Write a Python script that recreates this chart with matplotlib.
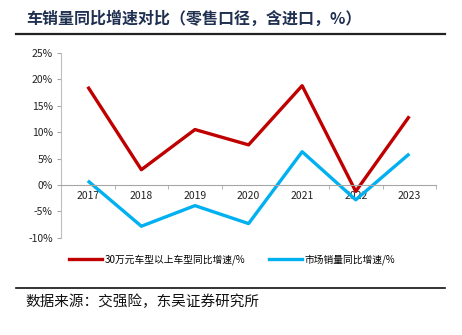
import matplotlib
matplotlib.use("Agg")
import matplotlib.pyplot as plt
from matplotlib.lines import Line2D
from matplotlib.ticker import FuncFormatter, FixedLocator

plt.rcParams['font.family'] = ['Noto Sans CJK SC', 'DejaVu Sans']

years = ["2017", "2018", "2019", "2020", "2021", "2022", "2023"]
premium = [18.6, 2.9, 10.5, 7.6, 18.8, -1.2, 13.0]   # 30万元车型以上
market = [0.8, -7.8, -3.9, -7.3, 6.3, -2.8, 5.9]     # 市场销量
yticks = [-10, -5, 0, 5, 10, 15, 20, 25]

title = "车销量同比增速对比（零售口径，含进口，%）"
source = "数据来源：交强险，东吴证券研究所"
lab_premium = "30万元车型以上车型同比增速/%"
lab_market = "市场销量同比增速/%"

fig = plt.figure(figsize=(4.62, 3.35), dpi=100)
ax = fig.add_axes([0.132, 0.290, 0.812, 0.552])

x = range(len(years))
ax.plot(x, premium, color="#C00000", lw=2.4, solid_capstyle="butt", label=lab_premium)
ax.plot(x, market, color="#00B0F0", lw=2.4, solid_capstyle="butt", label=lab_market)

ax.set_xlim(-0.5, len(years) - 0.5)
ax.set_ylim(-10, 25)
ax.set_yticks(yticks)
ax.yaxis.set_major_formatter(FuncFormatter(lambda v, p: f"{v:.0f}%"))
ax.set_xticks(list(x))
ax.set_xticklabels(years)
ax.xaxis.set_minor_locator(FixedLocator([i - 0.5 for i in range(len(years) + 1)]))
ax.tick_params(axis="x", which="major", length=0, labelsize=7.5, colors="#222222", pad=4)
ax.tick_params(axis="x", which="minor", length=3, color="#A6A6A6")
ax.tick_params(axis="y", length=3, color="#A6A6A6", labelsize=7.5, labelcolor="#222222", pad=3)

for s in ["top", "right"]:
    ax.spines[s].set_visible(False)
ax.spines["bottom"].set_position(("data", 0))
ax.spines["bottom"].set_color("#A6A6A6")
ax.spines["left"].set_color("#BFBFBF")

handles = [Line2D([], [], color="#C00000", lw=2.4), Line2D([], [], color="#00B0F0", lw=2.4)]
fig.legend(handles, [lab_premium, lab_market], loc="center", bbox_to_anchor=(0.502, 0.224),
           ncol=2, frameon=False, fontsize=7, handlelength=3.4, handletextpad=0.25,
           columnspacing=2.4)

fig.text(0.056, 0.945, title, fontsize=11.5, fontweight="bold", color="#1F3050", va="center")
fig.add_artist(Line2D([0.035, 0.963], [0.898, 0.898], color="#222222", lw=1.6))
fig.add_artist(Line2D([0.035, 0.963], [0.140, 0.140], color="#111111", lw=1.2))
fig.text(0.056, 0.098, source, fontsize=10.5, color="#111111", va="center")

fig.savefig("out.png", dpi=100)
